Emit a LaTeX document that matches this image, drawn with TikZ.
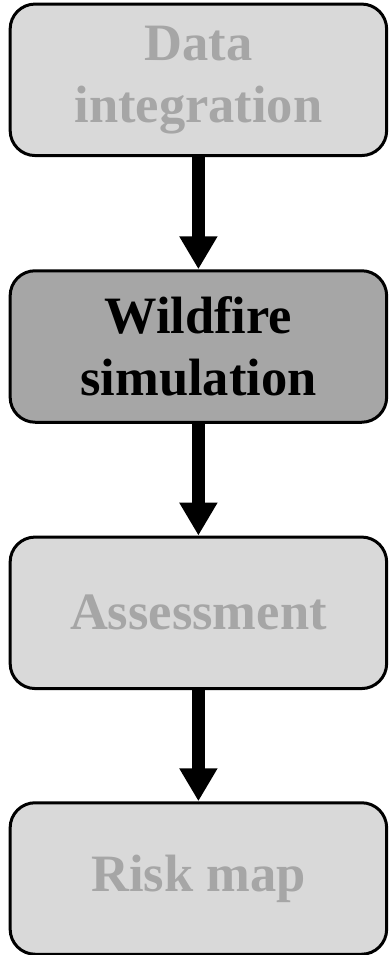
\documentclass[tikz,border=0pt]{standalone}
\usepackage{fontspec}
\setmainfont{Liberation Serif}
\usetikzlibrary{arrows.meta}
\definecolor{boxfill}{HTML}{D9D9D9}
\definecolor{boxdark}{HTML}{A6A6A6}
\definecolor{greytext}{HTML}{A6A6A6}
\begin{document}
\begin{tikzpicture}[x=1pt,y=1pt,
  stagebox/.style={draw=black, line width=3pt, rounded corners=25pt,
    minimum width=376.5pt, minimum height=151.5pt, align=center,
    font=\fontsize{52.5}{62}\selectfont\bfseries, inner sep=0pt},
  dimbox/.style={stagebox, fill=boxfill, text=greytext},
  activebox/.style={stagebox, fill=boxdark, text=black},
  flow/.style={line width=13pt, -{Triangle[width=36pt,length=33pt]}}]
\useasboundingbox (0,0) rectangle (390,-955);
\node[dimbox] (data) at (198.4,-79.8) {Data\\integration};
\node[activebox] (sim) at (198.4,-346.5) {Wildfire\\simulation};
\node[dimbox] (assess) at (198.4,-612.8) {Assessment};
\node[dimbox] (risk) at (198.4,-878.5) {Risk map};
\draw[flow] (data.south) -- (sim.north);
\draw[flow] (sim.south) -- (assess.north);
\draw[flow] (assess.south) -- (risk.north);
\end{tikzpicture}
\end{document}
